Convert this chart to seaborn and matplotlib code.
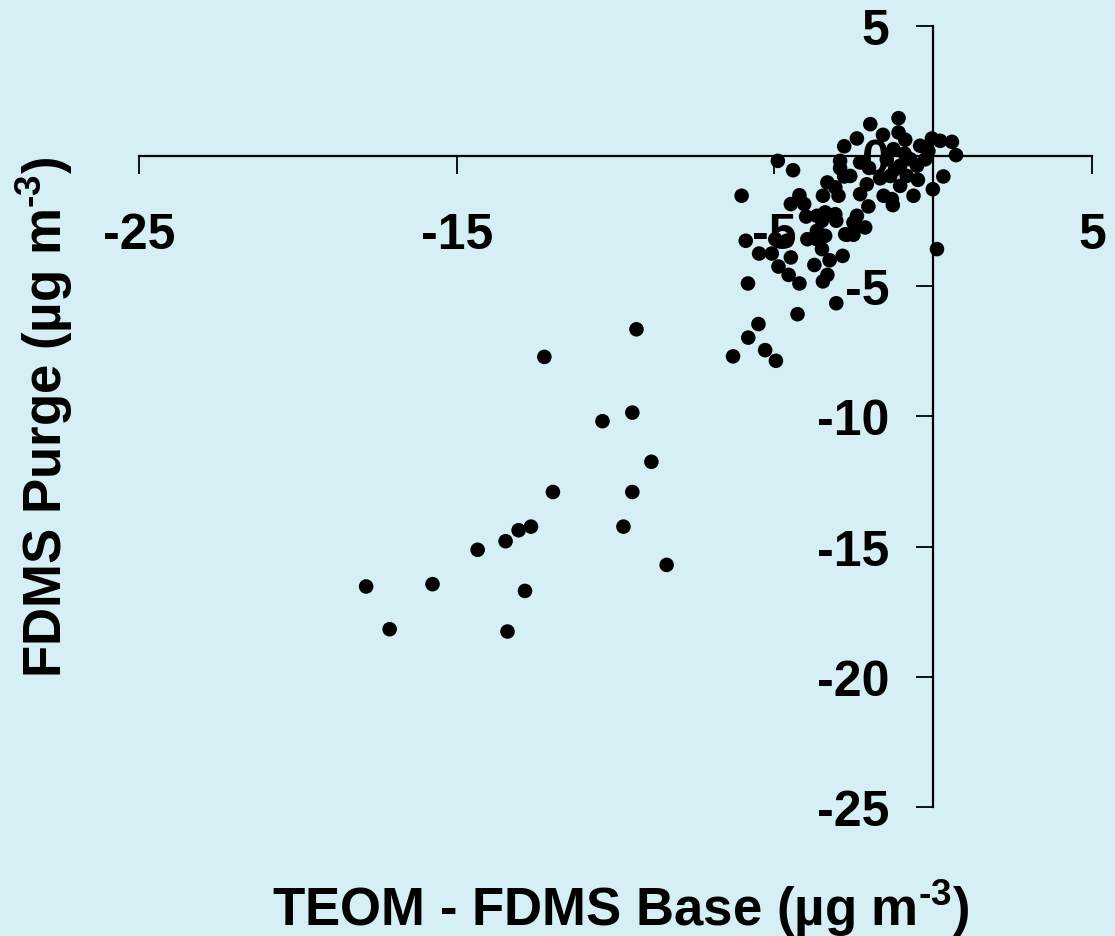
import matplotlib
matplotlib.use("Agg")
import matplotlib.pyplot as plt
import seaborn as sns
import pandas as pd

# TEOM - FDMS Base (x) and FDMS Purge (y), ug m-3
teom_minus_base = [
    -9.34, -12.24, -10.41, -9.47, -8.87, -11.97, -9.47, -12.66, -13.05, -13.46,
    -14.34, -9.75, -8.39, -17.85, -15.76, -12.85, -17.11, -13.40,
    -4.89, -4.41, -6.03, -2.80, -2.93, -2.80, -3.33, -3.08, -3.47, -2.98,
    -4.21, -4.48, -4.06, -4.00, -3.66, -3.40, -3.08, -3.05, -3.50,
    -5.90, -4.61, -4.97, -5.48, -5.08, -4.48, -4.87, -4.55, -4.21, -5.83,
    -3.96, -3.66, -3.40, -3.66, -2.77, -3.50, -3.26, -2.85, -3.74, -3.33,
    -3.47, -3.05, -4.27, -5.50, -5.82, -5.29, -6.30, -4.95,
    0.12, -2.45, -2.14, -2.72, -2.51,
    -1.09, -1.98, -2.40, -1.58, -1.09, -0.88, -0.41, -0.04, 0.22, 0.59,
    0.72, 0.32, -0.01, -0.48, -0.62, -1.25, -1.46, -2.02, -2.30, -2.61,
    -2.09, -2.30, -1.56, -1.30, -1.27, -2.04, -1.04, -0.83, -0.51, -0.25,
    -0.15, -1.04, -1.67, -1.35, -2.40, -2.51, -0.72, -2.93,
    -1.20, -0.90,
]
fdms_purge = [
    -6.65, -7.71, -10.18, -9.85, -11.74, -12.90, -12.90, -14.23, -14.37, -14.79,
    -15.12, -14.23, -15.70, -16.53, -16.44, -16.70, -18.17, -18.26,
    -0.18, -0.54, -1.52, 0.38, -0.46, -0.78, -1.01, -1.20, -1.52, -1.52,
    -1.50, -1.84, -1.84, -2.32, -2.29, -2.16, -2.23, -2.48, -2.48,
    -3.25, -3.25, -3.19, -3.74, -3.74, -3.89, -4.24, -4.56, -4.89, -4.89,
    -3.19, -3.19, -3.06, -2.87, -3.00, -3.57, -4.00, -3.83, -4.18, -4.56,
    -4.81, -5.65, -6.07, -6.45, -6.97, -7.45, -7.69, -7.86,
    -3.57, -2.61, -2.74, -3.02, -3.02,
    1.46, 1.23, 0.68, 0.82, 0.91, 0.63, 0.40, 0.68, 0.59, 0.55,
    0.04, -0.78, -1.27, -0.91, -1.52, 0.27, -0.12, -0.45, -0.24, -0.76,
    -1.08, -1.46, -1.52, -1.65, -1.88, -1.93, -1.14, -0.76, -0.37, -0.12,
    0.20, -0.37, -0.85, -0.76, -2.29, -2.55, -0.12, -0.18,
    -0.50, 0.10,
]
x_ticks = [-25, -15, -5, 5]
y_ticks = [-25, -20, -15, -10, -5, 0, 5]
x_label = "TEOM - FDMS Base (µg m$^{\\text{-3}}$)"
y_label = "FDMS Purge (µg m$^{\\text{-3}}$)"

bg = "#D6EFF4"
sns.set_theme(style="white")
plt.rcParams["font.family"] = ["Liberation Sans", "DejaVu Sans"]
plt.rcParams["font.weight"] = "bold"
plt.rcParams["text.color"] = "black"
plt.rcParams["axes.labelcolor"] = "black"
plt.rcParams["xtick.color"] = "black"
plt.rcParams["ytick.color"] = "black"
plt.rcParams["axes.unicode_minus"] = False
plt.rcParams["mathtext.fontset"] = "custom"
plt.rcParams["mathtext.rm"] = "Liberation Sans:bold"
plt.rcParams["mathtext.it"] = "Liberation Sans:bold"
plt.rcParams["mathtext.bf"] = "Liberation Sans:bold"
plt.rcParams["mathtext.default"] = "rm"

df = pd.DataFrame({"x": teom_minus_base, "y": fdms_purge})

fig = plt.figure(figsize=(11.15, 9.37), dpi=100, facecolor=bg)
ax = fig.add_axes([139 / 1115, 1 - 808 / 937, (1092 - 139) / 1115, (808 - 27) / 937])
ax.set_facecolor(bg)

sns.scatterplot(data=df, x="x", y="y", ax=ax, color="black", s=110,
                edgecolor="none", linewidth=0, zorder=2, clip_on=False)

ax.set_xlim(-25, 5)
ax.set_ylim(-25, 5)
ax.spines["left"].set_position(("data", 0))
ax.spines["bottom"].set_position(("data", 0))
ax.spines["top"].set_visible(False)
ax.spines["right"].set_visible(False)
for s in ("left", "bottom"):
    ax.spines[s].set_color("black")
    ax.spines[s].set_linewidth(1.6)

ax.set_xticks(x_ticks)
ax.set_yticks(y_ticks)
ax.set_xticklabels([str(v) for v in x_ticks])
ax.set_yticklabels([str(v) for v in y_ticks])
ax.tick_params(axis="x", direction="out", length=13, width=1.3, colors="black",
               pad=27, labelsize=36, bottom=True)
ax.tick_params(axis="y", direction="out", length=12.5, width=1.3, colors="black",
               pad=19, labelsize=36, left=True)
for lab in ax.get_xticklabels() + ax.get_yticklabels():
    lab.set_fontweight("bold")
    lab.set_color("black")

ax.set_xlabel(x_label, fontsize=38, fontweight="bold", va="center", color="black")
ax.set_ylabel(y_label, fontsize=38, fontweight="bold", va="center", color="black")
ax.xaxis.set_label_coords(0.505, -0.128)
ax.yaxis.set_label_coords(-0.099, 0.5)

fig.savefig("out.png", dpi=100, facecolor=bg)
